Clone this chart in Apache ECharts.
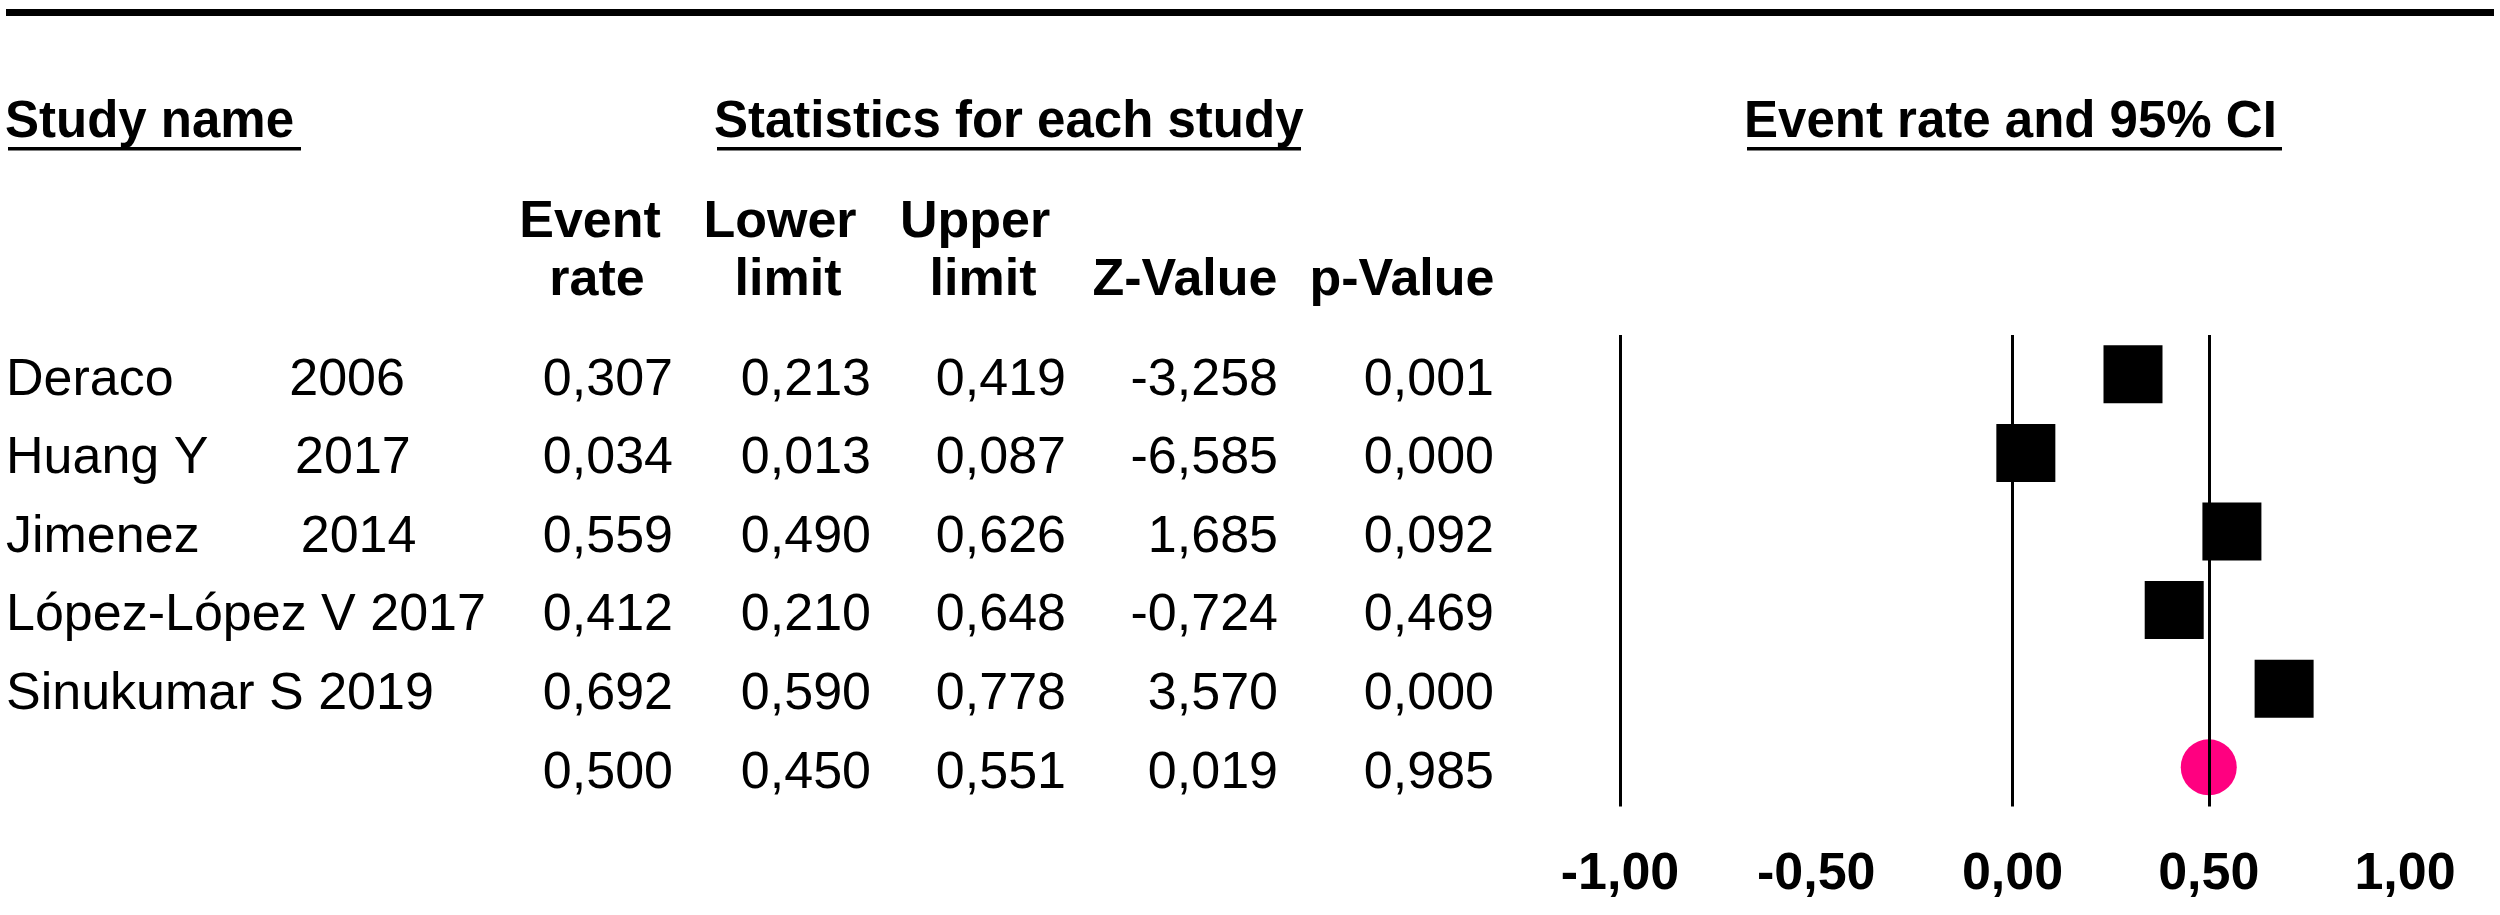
<!DOCTYPE html>
<html>
<head>
<meta charset="utf-8">
<script src="https://cdn.jsdelivr.net/npm/echarts@6/dist/echarts.min.js"></script>
<style>
html,body{margin:0;padding:0;background:#fff;}
#chart{width:2500px;height:915px;}
</style>
</head>
<body>
<div id="chart"></div>
<script>
// ---- data ----
const studies = [
  'Deraco        2006',
  'Huang Y      2017',
  'Jimenez       2014',
  'López-López V 2017',
  'Sinukumar S 2019',
  ''
];
const eventRate = [0.307, 0.034, 0.559, 0.412, 0.692, 0.500];
const lowerLimit = [0.213, 0.013, 0.490, 0.210, 0.590, 0.450];
const upperLimit = [0.419, 0.087, 0.626, 0.648, 0.778, 0.551];
const zValue = [-3.258, -6.585, 1.685, -0.724, 3.570, 0.019];
const pValue = [0.001, 0.000, 0.092, 0.469, 0.000, 0.985];
const summaryIndex = 5;
const refLines = [-1, 0, 0.5];
const colHeaders = [['Event', 'rate'], ['Lower', 'limit'], ['Upper', 'limit'], ['', 'Z-Value'], ['', 'p-Value']];
const sectionTitles = ['Study name', 'Statistics for each study', 'Event rate and 95% CI'];

// ---- layout (not data) ----
const FONT = '"Liberation Sans", Arial, sans-serif';
const FS = 52;
const FS_TITLE = 51;
const colRight = [673, 871, 1066, 1278, 1494];
const hdrCenters = [[590, 597], [780, 788], [975, 983], [1185, 1185], [1402, 1402]];
const titleX = [[5, 8, 301], [714, 717, 1301], [1744, 1747, 2282]];
const DY = 6;

const fmt3 = v => v.toFixed(3).replace('.', ',');
const fmt2 = v => v.toFixed(2).replace('.', ',');

const chart = echarts.init(document.getElementById('chart'), null, {renderer: 'canvas'});

const studyPts = [];
for (let i = 0; i < studies.length; i++) {
  if (i !== summaryIndex) studyPts.push([eventRate[i], i]);
}

chart.setOption({
  backgroundColor: '#ffffff',
  animation: false,
  grid: {left: 1620, right: 95, top: 335, height: 471.6, containLabel: false},
  xAxis: {
    type: 'value', min: -1, max: 1, interval: 0.5,
    axisLine: {show: false}, axisTick: {show: false}, splitLine: {show: false},
    axisLabel: {
      formatter: v => fmt2(v), color: '#000', fontFamily: FONT, fontWeight: 'bold',
      fontSize: FS, margin: 68, verticalAlign: 'middle'
    }
  },
  yAxis: {
    type: 'category', inverse: true, data: studies.map((s, i) => 'r' + i),
    show: false
  },
  series: [
    {
      type: 'scatter', name: 'studies', data: studyPts,
      symbol: 'rect', symbolSize: [59, 58],
      itemStyle: {color: '#000', opacity: 1}, silent: true,
      markLine: {
        silent: true, symbol: 'none', label: {show: false},
        lineStyle: {color: '#000', width: 3, type: 'solid', opacity: 1},
        data: refLines.map(v => ({xAxis: v}))
      },
      z: 3
    },
    {
      type: 'scatter', name: 'summary', data: [[eventRate[summaryIndex], summaryIndex]],
      symbol: 'circle', symbolSize: 56,
      itemStyle: {color: '#ff0080', opacity: 1}, silent: true, z: 4
    }
  ]
});

const g = [];
g.push({type: 'rect', shape: {x: 6, y: 9, width: 2488, height: 7}, style: {fill: '#000'}});
sectionTitles.forEach((t, k) => {
  g.push({type: 'text', style: {text: t, x: titleX[k][0], y: 117 + DY, font: 'bold ' + FS_TITLE + 'px ' + FONT,
    fill: '#000', align: 'left', verticalAlign: 'middle', textAlign: 'left', textVerticalAlign: 'middle'}});
  g.push({type: 'rect', shape: {x: titleX[k][1], y: 147, width: titleX[k][2] - titleX[k][1], height: 3.5},
    style: {fill: '#000'}});
});
colHeaders.forEach((h, c) => {
  [217, 275].forEach((yy, l) => {
    if (!h[l]) return;
    g.push({type: 'text', style: {text: h[l], x: hdrCenters[c][l], y: yy + DY, font: 'bold ' + FS + 'px ' + FONT,
      fill: '#000', align: 'center', verticalAlign: 'middle', textAlign: 'center', textVerticalAlign: 'middle'}});
  });
});
const cols = [eventRate, lowerLimit, upperLimit, zValue, pValue];
for (let i = 0; i < studies.length; i++) {
  const y = chart.convertToPixel({yAxisIndex: 0}, 'r' + i) + DY;
  if (studies[i]) {
    g.push({type: 'text', style: {text: studies[i], x: 6, y: y, font: FS + 'px ' + FONT, fill: '#000',
      align: 'left', verticalAlign: 'middle', textAlign: 'left', textVerticalAlign: 'middle'}});
  }
  cols.forEach((arr, c) => {
    g.push({type: 'text', style: {text: fmt3(arr[i]), x: colRight[c], y: y, font: FS + 'px ' + FONT, fill: '#000',
      align: 'right', verticalAlign: 'middle', textAlign: 'right', textVerticalAlign: 'middle'}});
  });
}
chart.setOption({graphic: {elements: g}});
</script>
</body>
</html>
